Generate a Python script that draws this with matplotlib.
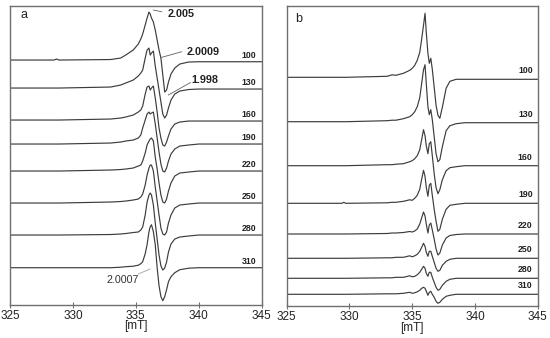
import matplotlib
matplotlib.use("Agg")
import matplotlib.pyplot as plt
import numpy as np

plt.rcParams['font.family'] = ['Liberation Sans', 'DejaVu Sans']

# panel a: magnetic field grid [mT] and trace amplitudes (px-like units)
field_a = [325, 328.5, 328.7, 328.9, 333.0, 333.8, 334.2, 334.8, 335.2, 335.4,
           335.55, 335.75, 335.9, 336.05, 336.15, 336.25, 336.4, 336.55, 336.7, 336.85,
           337.0, 337.15, 337.3, 337.45, 337.6, 337.8, 338.1, 338.5, 339.2, 340.0, 345]
temps_a = ['100', '130', '160', '190', '220', '250', '280', '310']
offsets_a = [245, 217, 185, 161, 134, 102, 70, 37.3]
a100 = [0, 0, 1, 0, 0.5, 2, 5, 10, 16, 21, 26, 35, 42, 48, 46, 42, 38, 30, 20, 10,
        2, -15, -32, -30, -22, -14, -8, -4, -2, -1.7, -1.7]
a130 = [0, 0, 0, 0, 1, 3, 5, 8, 12, 15, 18, 30, 38, 40, 33, 35, 37, 22, 10, -2,
        -14, -26, -30, -27, -20, -12, -6, -3, -1.5, -1, -1]
a160 = [0, 0, 0, 0, 1, 2, 3, 5, 8, 10, 14, 26, 33, 34, 30, 32, 34, 22, 8, -8,
        -18, -25, -26, -22, -16, -9, -4, -2, -1, -1, -1]
a190 = [0, 0, 0, 0, 1, 2, 3, 4, 6, 9, 16, 24, 30, 32, 30, 31, 32, 20, 6, -8,
        -20, -27, -28, -24, -17, -10, -5, -2, -1, 0, 0]
a220 = [0, 0, 0, 0, 1, 1.5, 2, 3, 5, 6, 10, 18, 26, 30, 32, 33, 30, 14, 2, -12,
        -24, -31, -32, -28, -20, -12, -5, -2, -1, 0, 0]
a250 = [0, 0, 0, 0, 1, 1.5, 2, 3, 4, 6, 9, 18, 28, 35, 38, 38, 32, 16, 2, -12,
        -25, -31, -32, -29, -20, -12, -5, -2, -1, 0, 0]
a280 = [0, 0, 0, 0, 0.5, 1, 1.5, 2.5, 3, 5, 8, 20, 33, 40, 42, 40, 30, 12, -4, -20,
        -31, -35, -33, -27, -17, -9, -4, -2, -1, 0, 0]
a310 = [0, 0, 0, 0, 0, 0.5, 1, 1.5, 2.5, 4, 6, 14, 23, 36, 41, 43, 36, 23, 0, -18,
        -29, -33, -29, -22, -14, -9, -5, -2, -0.5, 0, 0]
traces_a = [a100, a130, a160, a190, a220, a250, a280, a310]

# panel b
field_b = [325, 329.4, 329.55, 329.7, 333.0, 333.4, 333.7, 334.3, 334.8, 335.0, 335.2,
           335.4, 335.6, 335.75, 335.9, 336.02, 336.12, 336.25, 336.36, 336.48, 336.6,
           336.75, 336.9, 337.05, 337.2, 337.4, 337.7, 338.0, 338.5, 339.2, 340, 345]
temps_b = ['100', '130', '160', '190', '220', '250', '280', '310']
offsets_b = [229.2, 184.8, 140.8, 103.2, 72.5, 48.2, 28.2, 12.2]
b100 = [0, 0, 0, 0, 1, 2.5, 2, 4, 7, 9, 12, 17, 25, 38, 52, 64, 45, 24, 14, 19, 8,
        -10, -28, -38, -41, -30, -11, -4, -2, -2, -2, -2]
b130 = [0, 0, 0, 0, 1, 1.5, 1.5, 3, 5, 7, 10, 15, 24, 38, 52, 57, 38, 15, 7, 12, 2,
        -15, -32, -40, -38, -25, -9, -4, -2, -1, -1, -1]
b160 = [0, 0, 0, 0, 1, 1, 1.5, 2, 4, 5, 7, 10, 16, 26, 36, 30, 20, 12, 22, 24, 10,
        -8, -22, -28, -24, -14, -5, -2, -1, 0, 0, 0]
b190 = [0, 0, 1, 0, 0.5, 1, 1, 2, 3.5, 3, 5, 8, 14, 24, 33, 27, 16, 7, 18, 20, 8,
        -6, -18, -28, -26, -16, -6, -2, -1, 0, 0, 0]
b220 = [0, 0, 0, 0, 0.5, 1, 1, 1.5, 2.5, 2, 3, 5, 10, 16, 22, 18, 10, 1, 9, 11, 4,
        -5, -15, -21, -19, -11, -4, -1.5, -0.5, 0, 0, 0]
b250 = [0, 0, 0, 0, 0.5, 0.5, 1, 1, 2.5, 1.5, 2.5, 4, 7, 11, 15, 12, 6, 2, 7, 7, 2,
        -4, -10, -13, -12, -7, -3, -1, 0, 0, 0, 0]
b280 = [0, 0, 0, 0, 0.5, 0.5, 1, 1, 2.5, 1.5, 2, 3.5, 6, 9, 12, 10, 5, 2, 6, 6, 1,
        -4, -9, -12, -11, -7, -3, -1, 0, 0, 0, 0]
b310 = [0, 0, 0, 0, 0.5, 0.5, 0.5, 1, 2, 1, 1.5, 2.5, 4, 6, 7, 6, 3, -1, 2, 3, 0,
        -3, -7, -9, -8, -5, -2, -1, 0, 0, 0, 0]
traces_b = [b100, b130, b160, b190, b220, b250, b280, b310]

line_c = '#3c3c3c'
frame_c = '#707070'

fig = plt.figure(figsize=(5.5, 3.38), dpi=100)
ax_a = fig.add_axes([0.0182, 0.0976, 0.4573, 0.886])
ax_b = fig.add_axes([0.5213, 0.0932, 0.4564, 0.8905])

for ax, field, traces, offsets, temps, ytop, dy in [
        (ax_a, field_a, traces_a, offsets_a, temps_a, 299.5, 6.5),
        (ax_b, field_b, traces_b, offsets_b, temps_b, 301, 8.5)]:
    for amp, off, t in zip(traces, offsets, temps):
        ax.plot(field, off + np.array(amp), color=line_c, lw=0.85)
        ax.text(344.6, off + amp[-1] + dy, t, ha='right', va='center',
                fontsize=6.3, fontweight='bold', color='#222222')
    ax.set_xlim(325, 345)
    ax.set_ylim(0, ytop)
    ax.set_yticks([])
    ax.set_xticks([325, 330, 335, 340, 345])
    ax.tick_params(axis='x', direction='inout', length=4, width=0.8,
                   color=frame_c, labelsize=8.5, pad=1.5, labelcolor='#222222')
    ax.set_xlabel('[mT]', fontsize=8.5, labelpad=-1, color='#222222')
    for s in ax.spines.values():
        s.set_color(frame_c)
        s.set_linewidth(1.0)

ax_a.text(325.8, 290, 'a', fontsize=9, color='#222222', va='center')
ax_b.text(325.7, 288, 'b', fontsize=9, color='#222222', va='center')

# g-value annotations
ann = dict(color='#222222', fontsize=7.8, fontweight='bold', va='center', ha='left')
lead = dict(color='#606060', lw=0.6)
ax_a.plot([336.40, 337.06], [295, 293.3], **lead)
ax_a.text(337.56, 291, '2.005', **ann)
ax_a.plot([337.06, 338.65], [247.7, 253.3], **lead)
ax_a.text(339.05, 253.3, '2.0009', **ann)
ax_a.plot([337.59, 339.35], [210, 222.5], **lead)
ax_a.text(339.45, 225, '1.998', **ann)
ax_a.plot([335.2, 336.13], [31, 36], color='#a0a0a0', lw=0.6)
ax_a.text(332.69, 25, '2.0007', color='#333333', fontsize=7.7, va='center', ha='left')

fig.savefig('out.png', dpi=100)
